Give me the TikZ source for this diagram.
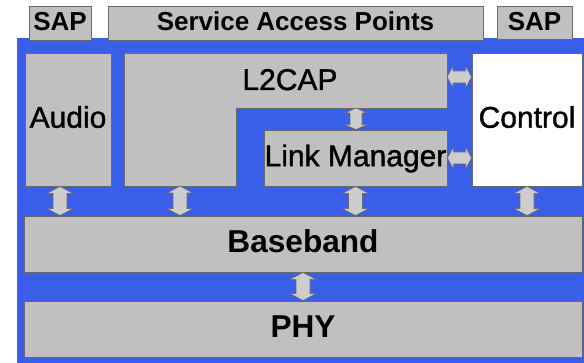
\documentclass[tikz,border=0pt]{standalone}
\usepackage{fontspec}
\setmainfont{Liberation Sans}
\newfontfamily\medsans[FakeBold=1.2]{Liberation Sans}
\usetikzlibrary{calc}
\definecolor{bgblue}{RGB}{56,94,234}
\definecolor{boxgray}{RGB}{192,192,192}
\definecolor{edgegray}{RGB}{105,105,105}
\tikzset{
  layerbox/.style={draw=edgegray, fill=boxgray, line width=0.8pt, inner sep=0pt,
    text height=21.5pt, text depth=5pt, font=\medsans\fontsize{30}{30}\selectfont},
  boldlayer/.style={layerbox, text height=22.6pt, font=\bfseries\fontsize{31.6}{31.6}\selectfont},
  tabbox/.style={draw=edgegray, fill=boxgray, line width=0.8pt, inner sep=0pt,
    text height=18.6pt, text depth=3pt, font=\bfseries\fontsize{26}{26}\selectfont},
  blockarr/.style={draw=edgegray, fill=boxgray!80!white, line width=0.6pt},
}
% vertical double block arrow: #1 upper point, #2 lower point, #3 head half width, #4 shaft half width, #5 head length
\newcommand\vdarrow[5]{%
  \path[blockarr] let \p1=#1, \p2=#2 in
    (\x1,\y1) -- (\x1+#3,\y1-#5) -- (\x1+#4,\y1-#5) -- (\x1+#4,\y2+#5) -- (\x1+#3,\y2+#5)
    -- (\x1,\y2) -- (\x1-#3,\y2+#5) -- (\x1-#4,\y2+#5) -- (\x1-#4,\y1-#5) -- (\x1-#3,\y1-#5) -- cycle;}
% horizontal double block arrow: #1 left point, #2 right point
\newcommand\hdarrow[5]{%
  \path[blockarr] let \p1=#1, \p2=#2 in
    (\x1,\y1) -- (\x1+#5,\y1+#3) -- (\x1+#5,\y1+#4) -- (\x2-#5,\y1+#4) -- (\x2-#5,\y1+#3)
    -- (\x2,\y1) -- (\x2-#5,\y1-#3) -- (\x2-#5,\y1-#4) -- (\x1+#5,\y1-#4) -- (\x1+#5,\y1-#3) -- cycle;}
\begin{document}
\begin{tikzpicture}[x=1pt,y=-1pt]
\useasboundingbox (0,0) rectangle (584,363);
\fill[white] (0,0) rectangle (584,363);
% blue background
\fill[bgblue] (17,38) rectangle (584,363);
\draw[edgegray, line width=0.8pt] (17,38) -- (17,363);
% tabs
\node[tabbox, minimum width=62, minimum height=34] (sapl) at (60,23) {SAP};
\node[tabbox, minimum width=375, minimum height=34] (sapm) at (295.5,23) {Service Access Points};
\node[tabbox, minimum width=75, minimum height=33] (sapr) at (534.5,22.5) {SAP};
% boxes
\node[layerbox, minimum width=86, minimum height=133] (audio) at (68,119.5) {Audio};
\draw[draw=edgegray, fill=boxgray, line width=0.8pt]
  (124,53) -- (447,53) -- (447,108) -- (236,108) -- (236,186) -- (124,186) -- cycle;
\node[font=\medsans\fontsize{30}{30}\selectfont, inner sep=0pt, anchor=base] (l2cap) at (290,90) {L2CAP};
\coordinate (l2r) at (447,77);
\coordinate (l2b) at (356,108);
\coordinate (l2bl) at (180,186);
\node[layerbox, minimum width=183, minimum height=56] (lm) at (355.5,158) {Link Manager};
\node[layerbox, fill=white, minimum width=110, minimum height=133] (ctrl) at (527,119.5) {Control};
\node[boldlayer, minimum width=558, minimum height=56] (bb) at (303,244) {Baseband};
\node[boldlayer, minimum width=558, minimum height=56] (phy) at (303,329) {PHY};
\coordinate (au) at ($(audio.south)+(-8,0)$);
% arrows
\vdarrow{(au)}{(au |- bb.north)}{13pt}{7pt}{7pt}
\vdarrow{(l2bl)}{(l2bl |- bb.north)}{13pt}{7pt}{7pt}
\vdarrow{(lm.south)}{(lm.south |- bb.north)}{13pt}{7pt}{7pt}
\vdarrow{(ctrl.south)}{(ctrl.south |- bb.north)}{13pt}{7pt}{7pt}
\vdarrow{(bb.south)}{(phy.north)}{13pt}{7pt}{7pt}
\vdarrow{(l2b)}{(l2b |- lm.north)}{11pt}{6pt}{5pt}
\hdarrow{(l2r)}{(l2r -| ctrl.west)}{11pt}{6pt}{6pt}
\hdarrow{(lm.east)}{(lm.east -| ctrl.west)}{11pt}{6pt}{6pt}
\end{tikzpicture}
\end{document}
